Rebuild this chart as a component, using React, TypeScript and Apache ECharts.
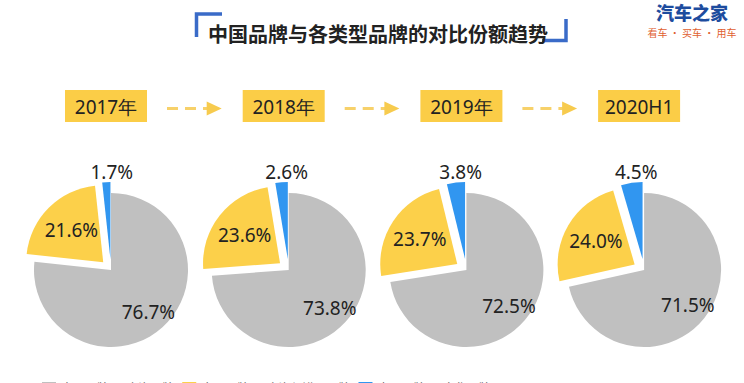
import React, { useEffect, useRef } from "react";
import * as echarts from "echarts";

const periods = ["2017年", "2018年", "2019年", "2020H1"];
const categories = ["中国品牌 vs 合资品牌", "中国品牌 vs 合资与进口品牌", "中国品牌 vs 豪华品牌"];
const grayShare = [76.7, 73.8, 72.5, 71.5];
const yellowShare = [21.6, 23.6, 23.7, 24.0];
const blueShare = [1.7, 2.6, 3.8, 4.5];
const colors = ["#C0C0C0", "#FCD04A", "#3196F0"];
const title = "中国品牌与各类型品牌的对比份额趋势";

export default function App() {
  const ref = useRef<HTMLDivElement>(null);
  useEffect(() => {
    if (!ref.current) return;
    const chart = echarts.init(ref.current, undefined, { renderer: "svg" });
    const numFont = "'Noto Sans', 'Open Sans', sans-serif";
    const cjk = "'Noto Sans CJK SC', 'Noto Sans', sans-serif";
    const cxs = periods.map((_, i) => 111 + i * 177.7);
    const cy = 270;
    const r = 77;
    const fmt = (p: any) => Number(p.value).toFixed(1) + "%";
    const series: any[] = [];
    periods.forEach((_, i) => {
      const vals = [grayShare[i], yellowShare[i], blueShare[i]];
      const mk = (mode: "main" | "inner" | "outer") =>
        vals.map((v, k) => ({
          name: categories[k],
          value: v,
          selected: mode === "main" && k > 0,
          itemStyle: { color: mode === "main" ? colors[k] : "rgba(0,0,0,0)" },
          select: { itemStyle: { color: mode === "main" ? colors[k] : "rgba(0,0,0,0)", borderWidth: 0 } },
          label: {
            show: (mode === "inner" && k < 2) || (mode === "outer" && k === 2),
            offset: mode === "outer" ? [6, 0] : [0, 0],
          },
        }));
      series.push({
        type: "pie",
        center: [cxs[i], cy],
        radius: r,
        startAngle: 90,
        selectedMode: "multiple",
        selectedOffset: 11,
        label: { show: false },
        labelLine: { show: false },
        emphasis: { disabled: true },
        data: mk("main"),
        z: 2,
      });
      series.push({
        type: "pie",
        center: [cxs[i], cy],
        radius: 106,
        startAngle: 90,
        silent: true,
        selectedMode: false,
        label: { show: true, position: "inside", formatter: fmt, fontSize: 19, color: "#222", fontFamily: numFont },
        labelLine: { show: false },
        emphasis: { disabled: true },
        data: mk("inner"),
        z: 3,
      });
      series.push({
        type: "pie",
        center: [cxs[i], cy],
        radius: 191,
        startAngle: 90,
        silent: true,
        selectedMode: false,
        label: { show: true, position: "inside", formatter: fmt, fontSize: 19, color: "#222", fontFamily: numFont },
        labelLine: { show: false },
        emphasis: { disabled: true },
        data: mk("outer"),
        z: 3,
      });
    });

    const graphic: any[] = [];
    // title brackets
    graphic.push({
      type: "polyline",
      shape: { points: [[196.5, 37], [196.5, 14], [222, 14]] },
      style: { stroke: "#3A6BC8", lineWidth: 3.5, fill: null },
    });
    graphic.push({
      type: "polyline",
      shape: { points: [[542, 40.5], [566, 40.5], [566, 19]] },
      style: { stroke: "#3A6BC8", lineWidth: 3.5, fill: null },
    });
    graphic.push({
      type: "text",
      x: 378,
      y: 33,
      style: { text: title, font: `bold 20px ${cjk}`, fill: "#222", align: "center", verticalAlign: "middle" },
    });
    // logo
    graphic.push({
      type: "text",
      x: 692,
      y: 12,
      style: { text: "汽车之家", font: `900 18px ${cjk}`, fill: "#1D4C9E", align: "center", verticalAlign: "middle", lineHeight: 18 },
    });
    graphic.push({
      type: "text",
      x: 692,
      y: 32,
      style: { text: "看车 · 买车 · 用车", font: `10px ${cjk}`, fill: "#E0602F", align: "center", verticalAlign: "middle", lineHeight: 10 },
    });
    // period boxes and arrows
    const boxW = 82;
    const boxH = 32;
    const boxY = 90;
    periods.forEach((p, i) => {
      const bx = cxs[i] - 5 - boxW / 2;
      graphic.push({
        type: "rect",
        shape: { x: bx, y: boxY, width: boxW, height: boxH },
        style: { fill: "#FBCD47" },
      });
      graphic.push({
        type: "text",
        x: bx + boxW / 2,
        y: boxY + boxH / 2 + 1,
        style: { text: p, font: `19px ${numFont}`, fill: "#222", align: "center", verticalAlign: "middle" },
      });
      if (i < periods.length - 1) {
        const x1 = bx + boxW + 20;
        const nextLeft = cxs[i + 1] - 5 - boxW / 2;
        const tip = nextLeft - 21;
        const ay = 108.5;
        graphic.push({
          type: "line",
          shape: { x1, y1: ay, x2: tip - 12, y2: ay },
          style: { stroke: "#F7D16A", lineWidth: 3, lineDash: [11, 7] },
        });
        graphic.push({
          type: "polygon",
          shape: { points: [[tip - 15, ay - 7], [tip, ay], [tip - 15, ay + 7]] },
          style: { fill: "#F7CB4E" },
        });
      }
    });

    chart.setOption({
      animation: false,
      backgroundColor: "#fff",
      legend: {
        data: categories,
        left: 37,
        top: 376,
        itemGap: 8,
        itemWidth: 14,
        itemHeight: 10,
        icon: "rect",
        textStyle: { fontSize: 12, color: "#666", fontFamily: cjk },
        selectedMode: false,
      },
      graphic,
      series,
    });
    return () => chart.dispose();
  }, []);
  return <div ref={ref} style={{ position: "fixed", left: 0, top: 0, width: 744, height: 383 }} />;
}
